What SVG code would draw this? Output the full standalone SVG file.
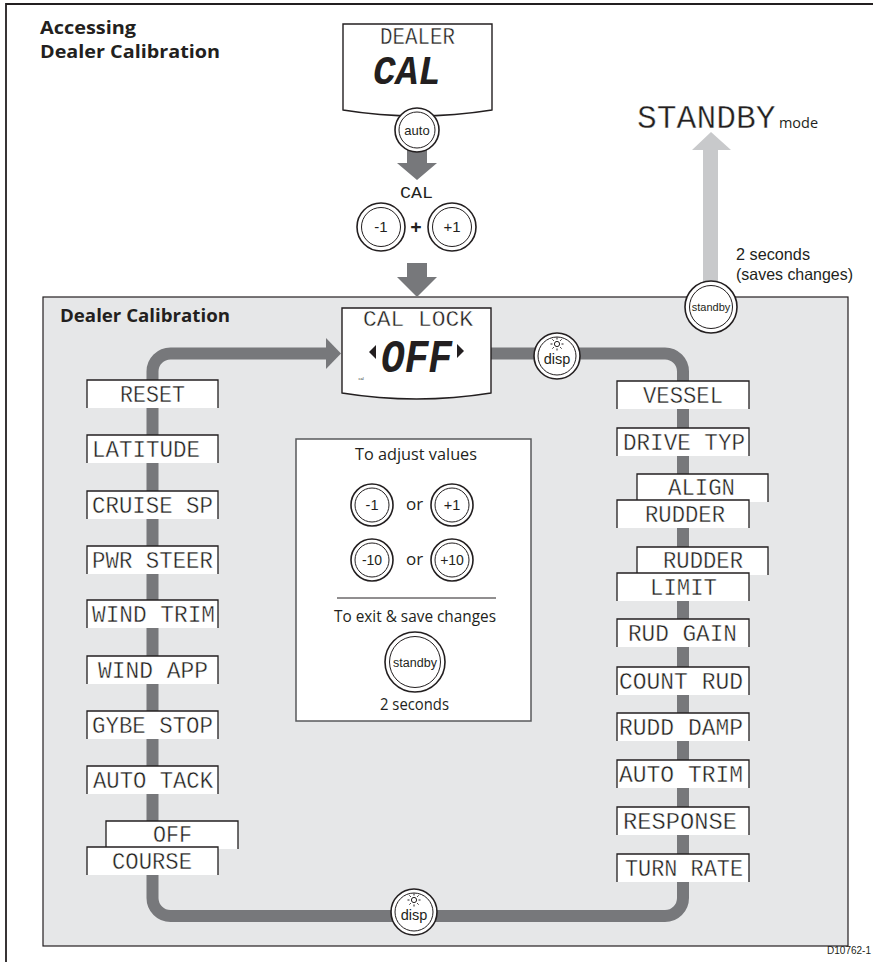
<svg xmlns="http://www.w3.org/2000/svg" width="873" height="962" viewBox="0 0 873 962">
<style>
.lcd{font-family:"Liberation Mono","DejaVu Sans Mono",monospace;fill:#231f20}
.thin{stroke:#fff;stroke-width:0.4px}
.lbl{font-size:23px}
.box{fill:#fff}
.edge{fill:none;stroke:#231f20;stroke-width:1.3}
.bo{fill:#fff;stroke:#231f20;stroke-width:1.6}
.bi{fill:#fff;stroke:#231f20;stroke-width:1}
.bt{font-family:"Liberation Sans",Arial,sans-serif;text-anchor:middle;fill:#231f20}
.body{font-family:"Open Sans","Liberation Sans",sans-serif;fill:#231f20}
.side{font-family:"Liberation Sans",Arial,sans-serif;fill:#231f20}
.bold{font-weight:700}
.loop{fill:none;stroke:#77787b;stroke-width:12}
.dark{fill:#77787b}
.light{fill:#c8c9cb}
</style>
<defs>
<g id="sun">
<circle cx="0" cy="0" r="2.6" fill="none" stroke="#231f20" stroke-width="1"/>
<path d="M0,-4.5V-6.5M0,4.5V6.5M-4.5,0H-6.5M4.5,0H6.5M-3.2,-3.2L-4.6,-4.6M3.2,-3.2L4.6,-4.6M-3.2,3.2L-4.6,4.6M3.2,3.2L4.6,4.6" stroke="#231f20" stroke-width="1"/>
</g>
</defs>
<rect x="0" y="0" width="873" height="962" fill="#fff"/>
<path d="M6,962V4H873" fill="none" stroke="#231f20" stroke-width="1.8"/>

<g id="title">
<text class="body bold" x="40" y="34" font-size="18" textLength="96" lengthAdjust="spacingAndGlyphs">Accessing</text>
<text class="body bold" x="40" y="58" font-size="18" textLength="180" lengthAdjust="spacingAndGlyphs">Dealer Calibration</text>
</g>

<g id="panel">
<rect x="43" y="297" width="805" height="649" fill="#e6e7e8" stroke="#231f20" stroke-width="1.2"/>
<text class="body bold" x="60" y="322" font-size="17" textLength="170" lengthAdjust="spacingAndGlyphs">Dealer Calibration</text>
</g>

<g id="connectors">
<polygon class="light" points="703,282 703,150 692,150 711,132 731,150 718,150 718,282"/>
<polygon class="dark" points="407,150 427,150 427,163 437,163 417,180 397,163 407,163"/>
<polygon class="dark" points="407,263 427,263 427,277 437,277 417,297 397,277 407,277"/>
<path class="loop" d="M328,353.5H170.5A18,18 0 0 0 152.5,371.5V898A18,18 0 0 0 170.5,916H665A18,18 0 0 0 683,898V371.5A18,18 0 0 0 665,353.5H485"/>
<polygon class="dark" points="326,338 341,353.5 326,369"/>
</g>

<g id="display-dealer-cal">
<path d="M343,110V24H492V110Q417,122 343,110Z" fill="#fff" stroke="#231f20" stroke-width="1.4"/>
<text class="lcd thin" x="380" y="43.5" font-size="23" textLength="75" lengthAdjust="spacingAndGlyphs">DEALER</text>
<text class="lcd" x="373" y="84" font-size="40" font-weight="700" font-style="italic" textLength="68" lengthAdjust="spacingAndGlyphs">CAL</text>
</g>

<g id="btn-auto">
<circle class="bo" cx="417" cy="130" r="22"/>
<circle class="bi" cx="417" cy="130" r="18"/>
<text class="bt" x="417" y="134.5" font-size="13">auto</text>
</g>

<g id="cal-label">
<text class="lcd" x="400" y="198" font-size="17" textLength="33" lengthAdjust="spacingAndGlyphs">CAL</text>
</g>

<g id="btn-minus1-top">
<circle class="bo" cx="381" cy="227" r="24"/>
<circle class="bi" cx="381" cy="227" r="19.5"/>
<text class="bt" x="381" y="232" font-size="15">-1</text>
</g>
<g id="plus-sign">
<text class="body bold" x="416" y="234" font-size="20" text-anchor="middle">+</text>
</g>
<g id="btn-plus1-top">
<circle class="bo" cx="452" cy="227" r="24"/>
<circle class="bi" cx="452" cy="227" r="19.5"/>
<text class="bt" x="452" y="232" font-size="15">+1</text>
</g>

<g id="standby-mode">
<text class="lcd thin" x="637" y="128" font-size="33">STANDBY</text>
<text class="body" x="779" y="128" font-size="15" textLength="39" lengthAdjust="spacingAndGlyphs">mode</text>
</g>

<g id="two-sec-label">
<text class="side" x="736" y="260" font-size="16.5" textLength="74" lengthAdjust="spacingAndGlyphs">2 seconds</text>
<text class="side" x="736" y="279.5" font-size="16.5" textLength="117" lengthAdjust="spacingAndGlyphs">(saves changes)</text>
</g>

<g id="btn-standby-top">
<circle class="bo" cx="711" cy="307" r="26"/>
<circle class="bi" cx="711" cy="307" r="21.5"/>
<text class="bt" x="711" y="311" font-size="11">standby</text>
</g>

<g id="display-cal-lock">
<path d="M342,393V308H491V393Q416.5,405 342,393Z" fill="#fff" stroke="#231f20" stroke-width="1.4"/>
<text class="lcd thin" x="363" y="326" font-size="22.5" textLength="110" lengthAdjust="spacingAndGlyphs">CAL LOCK</text>
<text class="lcd" x="381" y="371.5" font-size="46" font-weight="700" font-style="italic" textLength="71" lengthAdjust="spacingAndGlyphs">OFF</text>
<polygon points="369,352 376,345 376,359" fill="#231f20"/>
<polygon points="457,344 464,351 457,358" fill="#231f20"/>
<text class="bt" x="361" y="380" font-size="4">cal</text>
</g>

<g id="btn-disp-top">
<circle class="bo" cx="557" cy="356" r="23"/>
<circle class="bi" cx="557" cy="356" r="19"/>
<use href="#sun" x="557" y="344"/>
<text class="bt" x="557" y="364" font-size="14.5">disp</text>
</g>

<g id="btn-disp-bottom">
<circle class="bo" cx="414" cy="912" r="23"/>
<circle class="bi" cx="414" cy="912" r="19"/>
<use href="#sun" x="414" y="900"/>
<text class="bt" x="414" y="920" font-size="14.5">disp</text>
</g>

<g id="n-reset"><rect class="box" x="87" y="380" width="131" height="28"/><path class="edge" d="M87,408V380H218V408"/><text class="lcd thin lbl" x="120" y="402" textLength="65" lengthAdjust="spacingAndGlyphs">RESET</text></g>
<g id="n-latitude"><rect class="box" x="87" y="435" width="131" height="28"/><path class="edge" d="M87,463V435H218V463"/><text class="lcd thin lbl" x="92" y="457" textLength="108" lengthAdjust="spacingAndGlyphs">LATITUDE</text></g>
<g id="n-cruise-sp"><rect class="box" x="87" y="491" width="131" height="28"/><path class="edge" d="M87,519V491H218V519"/><text class="lcd thin lbl" x="92" y="513" textLength="121" lengthAdjust="spacingAndGlyphs">CRUISE SP</text></g>
<g id="n-pwr-steer"><rect class="box" x="87" y="546" width="131" height="28"/><path class="edge" d="M87,574V546H218V574"/><text class="lcd thin lbl" x="92" y="568" textLength="121" lengthAdjust="spacingAndGlyphs">PWR STEER</text></g>
<g id="n-wind-trim"><rect class="box" x="87" y="600" width="131" height="28"/><path class="edge" d="M87,628V600H218V628"/><text class="lcd thin lbl" x="92" y="622" textLength="123" lengthAdjust="spacingAndGlyphs">WIND TRIM</text></g>
<g id="n-wind-app"><rect class="box" x="87" y="656" width="131" height="28"/><path class="edge" d="M87,684V656H218V684"/><text class="lcd thin lbl" x="98" y="678" textLength="110" lengthAdjust="spacingAndGlyphs">WIND APP</text></g>
<g id="n-gybe-stop"><rect class="box" x="87" y="711" width="131" height="28"/><path class="edge" d="M87,739V711H218V739"/><text class="lcd thin lbl" x="92" y="733" textLength="121" lengthAdjust="spacingAndGlyphs">GYBE STOP</text></g>
<g id="n-auto-tack"><rect class="box" x="87" y="766" width="131" height="28"/><path class="edge" d="M87,794V766H218V794"/><text class="lcd thin lbl" x="93" y="788" textLength="120" lengthAdjust="spacingAndGlyphs">AUTO TACK</text></g>
<g id="n-off-course">
<rect class="box" x="106" y="821" width="132" height="28"/><path class="edge" d="M106,849V821H238V849"/><text class="lcd thin lbl" x="153" y="842" textLength="39" lengthAdjust="spacingAndGlyphs">OFF</text>
<rect class="box" x="87" y="847" width="131" height="28"/><path class="edge" d="M87,875V847H218V875"/><text class="lcd thin lbl" x="112" y="869" textLength="80" lengthAdjust="spacingAndGlyphs">COURSE</text>
</g>

<g id="n-vessel"><rect class="box" x="617" y="381" width="132" height="28"/><path class="edge" d="M617,409V381H749V409"/><text class="lcd thin lbl" x="643" y="403" textLength="80" lengthAdjust="spacingAndGlyphs">VESSEL</text></g>
<g id="n-drive-typ"><rect class="box" x="617" y="428" width="132" height="28"/><path class="edge" d="M617,456V428H749V456"/><text class="lcd thin lbl" x="623" y="450" textLength="122" lengthAdjust="spacingAndGlyphs">DRIVE TYP</text></g>
<g id="n-rudder-align">
<rect class="box" x="637" y="474" width="131" height="28"/><path class="edge" d="M637,502V474H768V502"/><text class="lcd thin lbl" x="668" y="495" textLength="67" lengthAdjust="spacingAndGlyphs">ALIGN</text>
<rect class="box" x="617" y="500" width="132" height="28"/><path class="edge" d="M617,528V500H749V528"/><text class="lcd thin lbl" x="645" y="522" textLength="80" lengthAdjust="spacingAndGlyphs">RUDDER</text>
</g>
<g id="n-rudder-limit">
<rect class="box" x="637" y="547" width="131" height="28"/><path class="edge" d="M637,575V547H768V575"/><text class="lcd thin lbl" x="663" y="568" textLength="80" lengthAdjust="spacingAndGlyphs">RUDDER</text>
<rect class="box" x="617" y="573" width="132" height="28"/><path class="edge" d="M617,601V573H749V601"/><text class="lcd thin lbl" x="650" y="595" textLength="67" lengthAdjust="spacingAndGlyphs">LIMIT</text>
</g>
<g id="n-rud-gain"><rect class="box" x="617" y="619" width="132" height="28"/><path class="edge" d="M617,647V619H749V647"/><text class="lcd thin lbl" x="628" y="641" textLength="109" lengthAdjust="spacingAndGlyphs">RUD GAIN</text></g>
<g id="n-count-rud"><rect class="box" x="617" y="667" width="132" height="28"/><path class="edge" d="M617,695V667H749V695"/><text class="lcd thin lbl" x="619" y="689" textLength="124" lengthAdjust="spacingAndGlyphs">COUNT RUD</text></g>
<g id="n-rudd-damp"><rect class="box" x="617" y="713" width="132" height="28"/><path class="edge" d="M617,741V713H749V741"/><text class="lcd thin lbl" x="619" y="735" textLength="124" lengthAdjust="spacingAndGlyphs">RUDD DAMP</text></g>
<g id="n-auto-trim"><rect class="box" x="617" y="760" width="132" height="28"/><path class="edge" d="M617,788V760H749V788"/><text class="lcd thin lbl" x="619" y="782" textLength="124" lengthAdjust="spacingAndGlyphs">AUTO TRIM</text></g>
<g id="n-response"><rect class="box" x="617" y="807" width="132" height="28"/><path class="edge" d="M617,835V807H749V835"/><text class="lcd thin lbl" x="623" y="829" textLength="114" lengthAdjust="spacingAndGlyphs">RESPONSE</text></g>
<g id="n-turn-rate"><rect class="box" x="617" y="854" width="132" height="28"/><path class="edge" d="M617,882V854H749V882"/><text class="lcd thin lbl" x="625" y="876" textLength="118" lengthAdjust="spacingAndGlyphs">TURN RATE</text></g>

<g id="help-box">
<rect x="296" y="439" width="235" height="282" fill="#fff" stroke="#58595b" stroke-width="1.5"/>
<text class="body" x="355" y="460" font-size="17" textLength="122" lengthAdjust="spacingAndGlyphs">To adjust values</text>
<circle class="bo" cx="372" cy="505" r="21"/><circle class="bi" cx="372" cy="505" r="17"/><text class="bt" x="372" y="510" font-size="14.5">-1</text>
<text class="body" x="414.5" y="510" font-size="17" text-anchor="middle">or</text>
<circle class="bo" cx="452" cy="505" r="21"/><circle class="bi" cx="452" cy="505" r="17"/><text class="bt" x="452" y="510" font-size="14.5">+1</text>
<circle class="bo" cx="372" cy="560" r="21"/><circle class="bi" cx="372" cy="560" r="17"/><text class="bt" x="372" y="565" font-size="14">-10</text>
<text class="body" x="414.5" y="565" font-size="17" text-anchor="middle">or</text>
<circle class="bo" cx="452" cy="560" r="21"/><circle class="bi" cx="452" cy="560" r="17"/><text class="bt" x="452" y="565" font-size="14">+10</text>
<line x1="337" y1="598" x2="496" y2="598" stroke="#231f20" stroke-width="1"/>
<text class="body" x="334" y="622" font-size="17" textLength="162" lengthAdjust="spacingAndGlyphs">To exit &amp; save changes</text>
<circle class="bo" cx="415" cy="662" r="30"/><circle class="bi" cx="415" cy="662" r="25.5"/><text class="bt" x="415" y="666.5" font-size="12.5">standby</text>
<text class="body" x="380" y="710" font-size="17" textLength="69" lengthAdjust="spacingAndGlyphs">2 seconds</text>
</g>

<g id="figure-code">
<text class="bt" x="849" y="954" font-size="10">D10762-1</text>
</g>
</svg>
